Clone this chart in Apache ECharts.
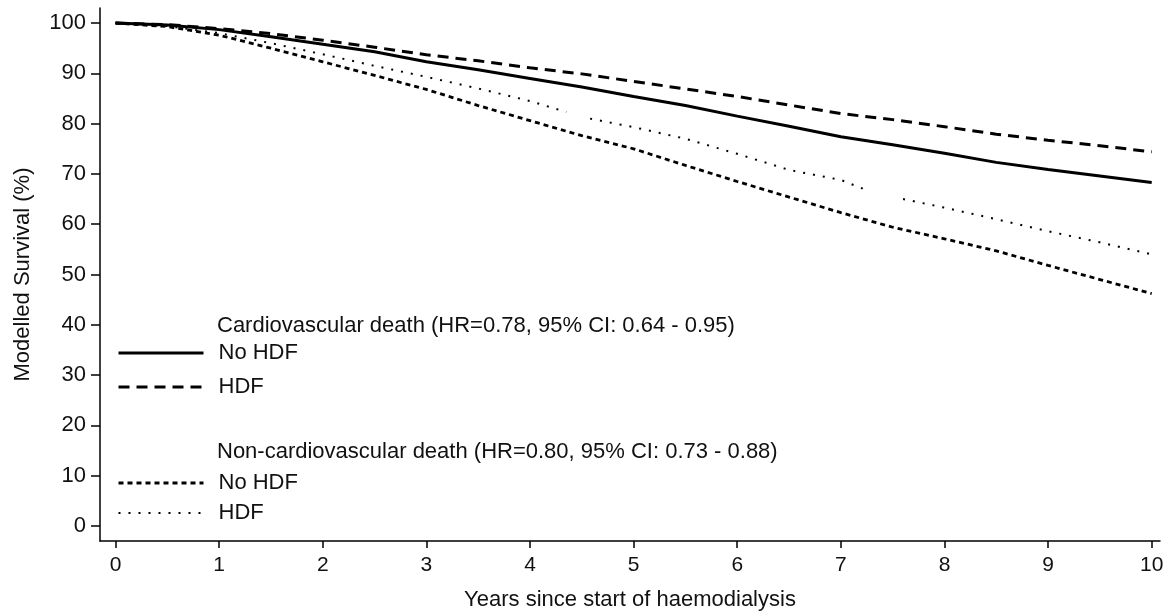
<!DOCTYPE html>
<html>
<head>
<meta charset="utf-8">
<script src="https://cdn.jsdelivr.net/npm/echarts@6/dist/echarts.min.js"></script>
<style>
html,body{margin:0;padding:0;background:#fff;}
#chart{width:1171px;height:616px;}
</style>
</head>
<body>
<div id="chart"></div>
<script>
// ---- Data ----
var years = [0, 0.5, 1, 1.5, 2, 2.5, 3, 3.5, 4, 4.5, 5, 5.5, 6, 6.5, 7, 7.5, 8, 8.5, 9, 9.5, 10];
var cvNoHdf   = [100, 99.6, 98.7, 97.3, 95.8, 94.3, 92.3, 90.7, 89.0, 87.3, 85.4, 83.6, 81.5, 79.5, 77.4, 75.8, 74.1, 72.3, 70.9, 69.6, 68.3];
var cvHdf     = [100, 99.7, 98.9, 97.9, 96.6, 95.2, 93.7, 92.5, 91.1, 89.9, 88.4, 86.9, 85.4, 83.7, 82.0, 80.8, 79.4, 77.9, 76.7, 75.6, 74.4];
var ncvNoHdf  = [100, 99.3, 97.6, 95.0, 92.3, 89.6, 86.8, 83.6, 80.6, 77.6, 75.0, 71.7, 68.5, 65.4, 62.3, 59.4, 57.1, 54.7, 51.8, 49.0, 46.2];
var yearsNcvHdf = [0, 0.5, 1, 1.5, 2, 2.5, 3, 3.5, 4, 4.35, 4.46, 4.58, 5, 5.5, 6, 6.5, 7, 7.22, 7.4, 7.6, 8, 8.5, 9, 9.5, 10];
var ncvHdf    = [100, 99.4, 98.0, 96.0, 93.8, 91.5, 89.3, 87.0, 84.5, 82.3, null, 81.0, 79.3, 77.0, 74.0, 70.8, 68.8, 67.0, null, 65.0, 63.3, 61.0, 58.6, 56.4, 54.0];

var xTicks = [0, 1, 2, 3, 4, 5, 6, 7, 8, 9, 10];
var yTicks = [0, 10, 20, 30, 40, 50, 60, 70, 80, 90, 100];

var seriesNames = ['CV No HDF', 'CV HDF', 'NCV No HDF', 'NCV HDF'];
var legendLabels = {'CV No HDF': 'No HDF', 'CV HDF': 'HDF', 'NCV No HDF': 'No HDF', 'NCV HDF': 'HDF'};
var headerCv = 'Cardiovascular death (HR=0.78, 95% CI: 0.64 - 0.95)';
var headerNcv = 'Non-cardiovascular death (HR=0.80, 95% CI: 0.73 - 0.88)';

function pairs(xs, ys) { return xs.map(function (x, i) { return [x, ys[i]]; }); }

var FONT = '"Liberation Sans", Arial, sans-serif';
var TXT = '#111';

var chart = echarts.init(document.getElementById('chart'), null, {renderer: 'canvas'});
var legendCommon = {
  orient: 'vertical',
  left: 117,
  padding: 0,
  itemWidth: 85,
  itemHeight: 22,
  itemStyle: {opacity: 0},
  textStyle: {fontFamily: FONT, fontSize: 22, color: TXT, lineHeight: 22, padding: [0, 0, 0, 10]},
  formatter: function (n) { return legendLabels[n]; },
  selectedMode: false
};
chart.setOption({
  animation: false,
  backgroundColor: '#fff',
  grid: {left: 100, right: 11, top: 8, bottom: 73, containLabel: false},
  legend: [
    Object.assign({}, legendCommon, {top: 342, itemGap: 12, data: [
      {name: 'CV No HDF', lineStyle: {width: 3}},
      {name: 'CV HDF', lineStyle: {width: 3}}
    ]}),
    Object.assign({}, legendCommon, {top: 472, itemGap: 8, data: [
      {name: 'NCV No HDF', lineStyle: {width: 3}},
      {name: 'NCV HDF', lineStyle: {width: 2}}
    ]})
  ],
  graphic: [
    {type: 'text', left: 217, top: 315, style: {text: headerCv, font: '22px ' + FONT, fill: TXT}},
    {type: 'text', left: 217, top: 441, style: {text: headerNcv, font: '22px ' + FONT, fill: TXT}}
  ],
  xAxis: {
    type: 'value', min: -0.15, max: 10.08,
    name: 'Years since start of haemodialysis', nameLocation: 'middle', nameGap: 48,
    nameTextStyle: {fontFamily: FONT, fontSize: 22, color: TXT},
    axisLine: {show: true, onZero: false, lineStyle: {color: '#000', width: 1.5}},
    axisTick: {show: true, length: 7, customValues: xTicks, lineStyle: {color: '#000', width: 1.5}},
    axisLabel: {customValues: xTicks, margin: 14, fontFamily: FONT, fontSize: 21, color: TXT},
    splitLine: {show: false}
  },
  yAxis: {
    type: 'value', min: -3, max: 103,
    name: 'Modelled Survival (%)', nameLocation: 'middle', nameGap: 66,
    nameTextStyle: {fontFamily: FONT, fontSize: 22, color: TXT},
    axisLine: {show: true, onZero: false, lineStyle: {color: '#000', width: 1.5}},
    axisTick: {show: true, length: 9, customValues: yTicks, lineStyle: {color: '#000', width: 1.5}},
    axisLabel: {customValues: yTicks, margin: 14, fontFamily: FONT, fontSize: 22, color: TXT},
    splitLine: {show: false}
  },
  series: [
    {name: seriesNames[0], type: 'line', data: pairs(years, cvNoHdf), symbol: 'none', showSymbol: false,
     lineStyle: {color: '#000', width: 3, type: 'solid'}, itemStyle: {color: '#000'}},
    {name: seriesNames[1], type: 'line', data: pairs(years, cvHdf), symbol: 'none', showSymbol: false,
     lineStyle: {color: '#000', width: 3, type: [11, 7]}, itemStyle: {color: '#000'}},
    {name: seriesNames[2], type: 'line', data: pairs(years, ncvNoHdf), symbol: 'none', showSymbol: false,
     lineStyle: {color: '#000', width: 2.8, type: [5, 4]}, itemStyle: {color: '#000'}},
    {name: seriesNames[3], type: 'line', data: pairs(yearsNcvHdf, ncvHdf), symbol: 'none', showSymbol: false, connectNulls: false,
     lineStyle: {color: '#000', width: 2, type: [2, 8]}, itemStyle: {color: '#000'}}
  ]
});
</script>
</body>
</html>
